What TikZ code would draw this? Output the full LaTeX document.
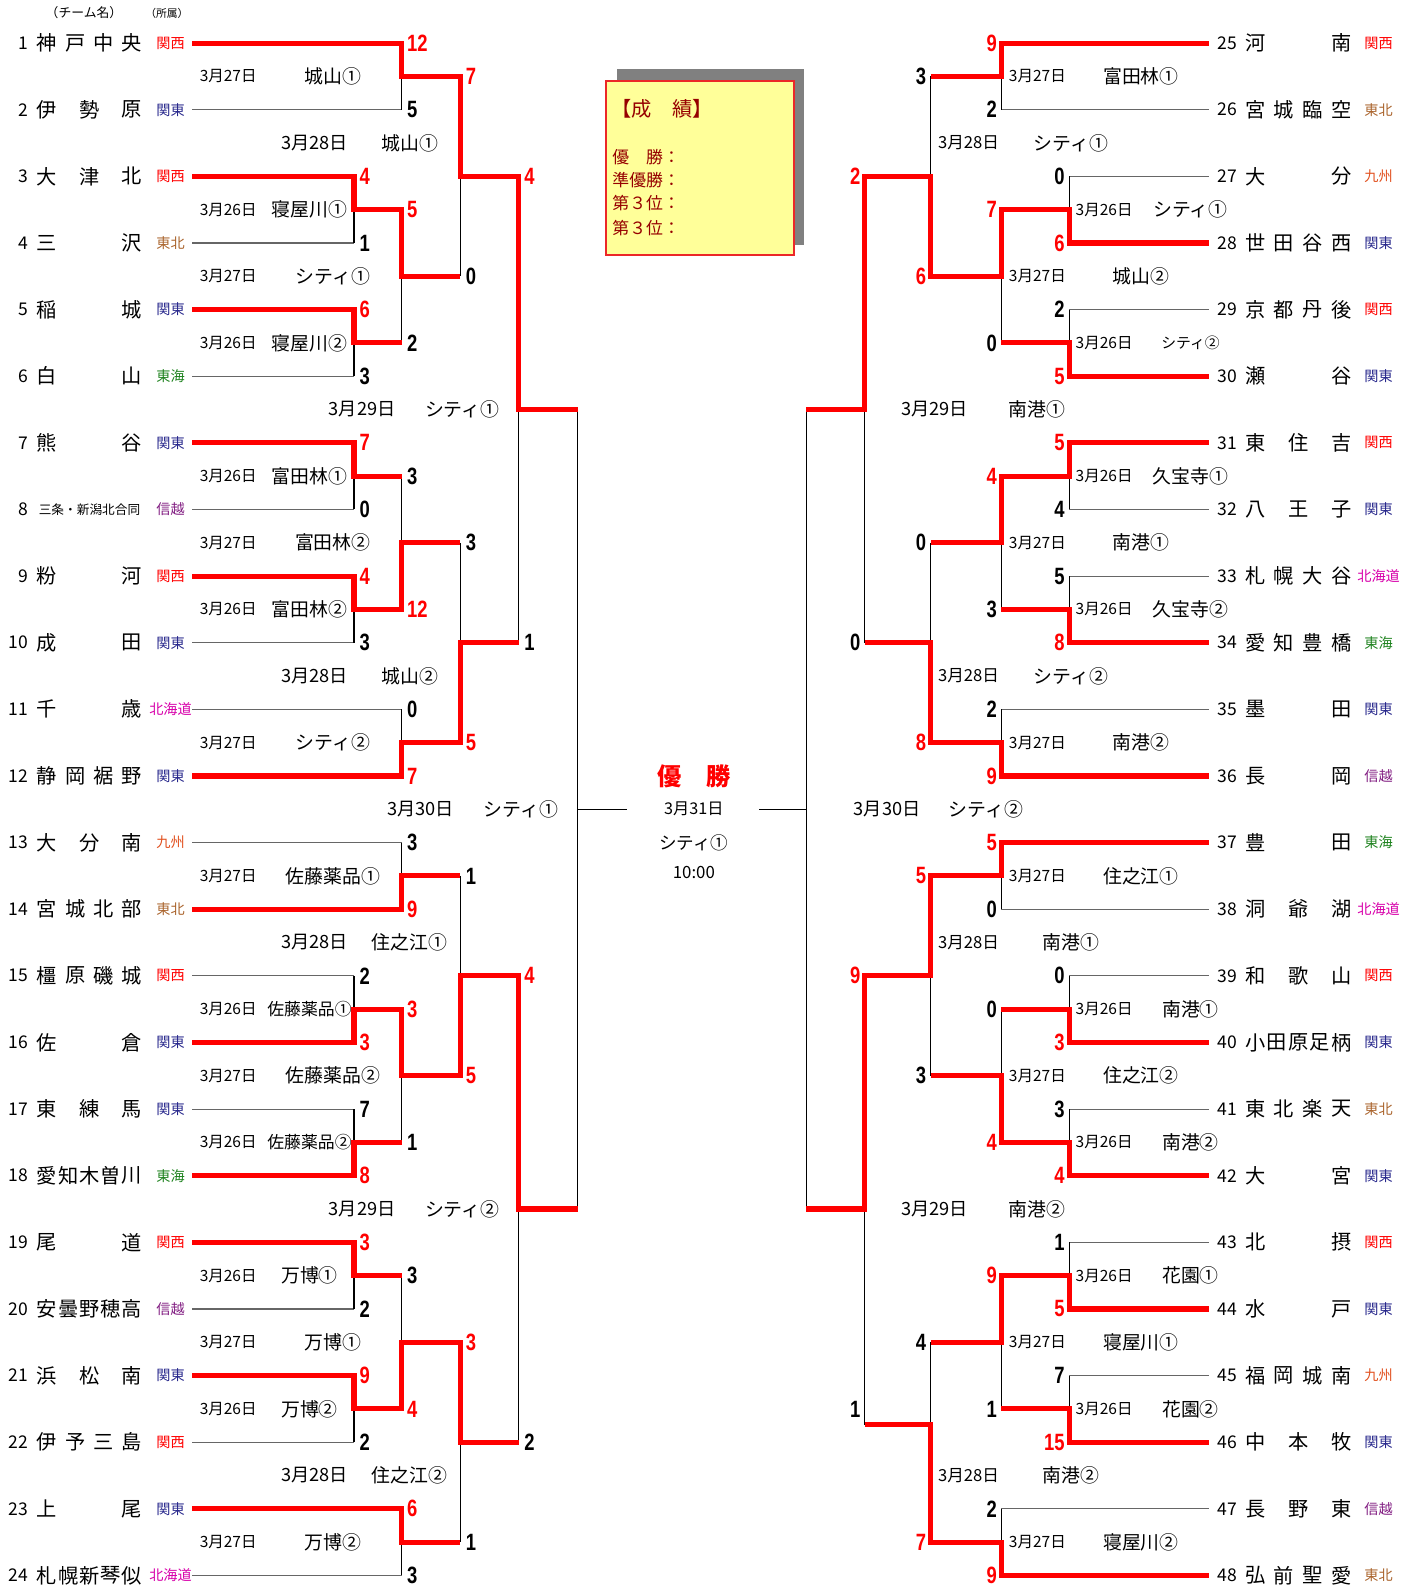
\documentclass[tikz,border=0pt]{standalone}
\usepackage{fontspec}
\usepackage{graphicx}
\setmainfont{Noto Sans CJK JP}
\newfontfamily\scorefont{Liberation Sans}

\definecolor{cWin}{RGB}{255,0,0}
\definecolor{cKansai}{RGB}{255,0,0}
\definecolor{cKanto}{RGB}{40,40,140}
\definecolor{cTohoku}{RGB}{170,100,45}
\definecolor{cTokai}{RGB}{30,130,30}
\definecolor{cHokkaido}{RGB}{215,0,170}
\definecolor{cKyushu}{RGB}{225,80,30}
\definecolor{cShinetsu}{RGB}{130,30,130}
\definecolor{cBox}{RGB}{255,255,153}
\definecolor{cBoxLine}{RGB}{235,40,40}
\definecolor{cBoxText}{RGB}{150,0,0}
\definecolor{cShadow}{RGB}{128,128,128}

\newcommand\Kansai{\textcolor{cKansai}{関西}}
\newcommand\Kanto{\textcolor{cKanto}{関東}}
\newcommand\Tohoku{\textcolor{cTohoku}{東北}}
\newcommand\Tokai{\textcolor{cTokai}{東海}}
\newcommand\Hokkaido{\textcolor{cHokkaido}{北海道}}
\newcommand\Kyushu{\textcolor{cKyushu}{九州}}
\newcommand\Shinetsu{\textcolor{cShinetsu}{信越}}

\tikzset{every picture/.style={line width=0.75pt}}
\tikzset{
  teamline/.style={draw=black!60, line width=0.8pt},
  bline/.style={draw=black, line width=0.8pt},
  winline/.style={draw=cWin, line width=3.8pt},
  teamno/.style={inner sep=0pt, font=\fontsize{13}{13}\selectfont},
  teamchr/.style={inner sep=0pt, font=\fontsize{15}{15}\selectfont},
  regionlbl/.style={inner sep=0pt, font=\fontsize{10.5}{10.5}\selectfont},
  scw/.style={anchor=west, inner sep=0pt, font=\scorefont\bfseries\fontsize{17.5}{17.5}\selectfont},
  sce/.style={anchor=east, inner sep=0pt, font=\scorefont\bfseries\fontsize{17.5}{17.5}\selectfont},
  datelbl/.style={inner sep=0pt, font=\fontsize{11.5}{11.5}\selectfont},
  datebig/.style={inner sep=0pt, font=\fontsize{13.5}{13.5}\selectfont},
  venue/.style={inner sep=0pt, font=\fontsize{14}{14}\selectfont},
}

% team on the left: number, row, name characters, region, end of its line
\newcommand\teamL[5]{%
  \draw[teamline] (190,#2) -- (#5,#2);
  \node[teamno,anchor=east] (n#1) at (28,#2) {#1};
  \foreach \ch [count=\k] in {#3} {\xdef\nchars{\k}}%
  \foreach \ch [count=\k from 0] in {#3} {\node[teamchr] (n#1-\k) at ({46.5+\k*84.1/(\nchars-1)},#2) {\ch};}%
  \node[regionlbl] (a#1) at (168.6,#2) {#4};}
% team on the right
\newcommand\teamR[5]{%
  \draw[teamline] (#5,#2) -- (1195,#2);
  \node[teamno,anchor=west] (n#1) at (1203,#2) {#1};
  \foreach \ch [count=\k] in {#3} {\xdef\nchars{\k}}%
  \foreach \ch [count=\k from 0] in {#3} {\node[teamchr] (n#1-\k) at ({1241+\k*85/(\nchars-1)},#2) {\ch};}%
  \node[regionlbl] (a#1) at (1363,#2) {#4};}

\begin{document}
\begin{tikzpicture}[x=0.75pt,y=49.4025pt,yscale=-1,xscale=1]
\useasboundingbox (0,-0.6467) rectangle (1401,23.1584);

% Text Node
\node[inner sep=0pt, font=\fontsize{9.5}{9.5}\selectfont] (hdteam) at (83,-0.45) {（チーム名）};
% Text Node
\node[inner sep=0pt, font=\fontsize{8}{8}\selectfont] (hdarea) at (165,-0.45) {（所属）};

%Teams left
\teamL{1}{0}{神,戸,中,央}{\Kansai}{397}
\teamL{2}{1}{伊,勢,原}{\Kanto}{397}
\teamL{3}{2}{大,津,北}{\Kansai}{350}
\teamL{4}{3}{三,沢}{\Tohoku}{350}
\teamL{5}{4}{稲,城}{\Kanto}{350}
\teamL{6}{5}{白,山}{\Tokai}{350}
\teamL{7}{6}{熊,谷}{\Kanto}{350}
\draw[teamline] (190,7) -- (350,7);
\node[teamno,anchor=east] (n8) at (28,7) {8};
\node[inner sep=0pt, font=\fontsize{9.4}{9.4}\selectfont] (n8-0) at (88.5,7) {三条・新潟北合同};
\node[regionlbl] (a8) at (168.6,7) {\Shinetsu};
\teamL{9}{8}{粉,河}{\Kansai}{350}
\teamL{10}{9}{成,田}{\Kanto}{350}
\teamL{11}{10}{千,歳}{\Hokkaido}{397}
\teamL{12}{11}{静,岡,裾,野}{\Kanto}{397}
\teamL{13}{12}{大,分,南}{\Kyushu}{397}
\teamL{14}{13}{宮,城,北,部}{\Tohoku}{397}
\teamL{15}{14}{橿,原,磯,城}{\Kansai}{350}
\teamL{16}{15}{佐,倉}{\Kanto}{350}
\teamL{17}{16}{東,練,馬}{\Kanto}{350}
\teamL{18}{17}{愛,知,木,曽,川}{\Tokai}{350}
\teamL{19}{18}{尾,道}{\Kansai}{350}
\teamL{20}{19}{安,曇,野,穂,高}{\Shinetsu}{350}
\teamL{21}{20}{浜,松,南}{\Kanto}{350}
\teamL{22}{21}{伊,予,三,島}{\Kansai}{350}
\teamL{23}{22}{上,尾}{\Kanto}{397}
\teamL{24}{23}{札,幌,新,琴,似}{\Hokkaido}{397}

%Teams right
\teamR{25}{0}{河,南}{\Kansai}{990}
\teamR{26}{1}{宮,城,臨,空}{\Tohoku}{990}
\teamR{27}{2}{大,分}{\Kyushu}{1057}
\teamR{28}{3}{世,田,谷,西}{\Kanto}{1057}
\teamR{29}{4}{京,都,丹,後}{\Kansai}{1057}
\teamR{30}{5}{瀬,谷}{\Kanto}{1057}
\teamR{31}{6}{東,住,吉}{\Kansai}{1057}
\teamR{32}{7}{八,王,子}{\Kanto}{1057}
\teamR{33}{8}{札,幌,大,谷}{\Hokkaido}{1057}
\teamR{34}{9}{愛,知,豊,橋}{\Tokai}{1057}
\teamR{35}{10}{墨,田}{\Kanto}{990}
\teamR{36}{11}{長,岡}{\Shinetsu}{990}
\teamR{37}{12}{豊,田}{\Tokai}{990}
\teamR{38}{13}{洞,爺,湖}{\Hokkaido}{990}
\teamR{39}{14}{和,歌,山}{\Kansai}{1057}
\teamR{40}{15}{小,田,原,足,柄}{\Kanto}{1057}
\teamR{41}{16}{東,北,楽,天}{\Tohoku}{1057}
\teamR{42}{17}{大,宮}{\Kanto}{1057}
\teamR{43}{18}{北,摂}{\Kansai}{1057}
\teamR{44}{19}{水,戸}{\Kanto}{1057}
\teamR{45}{20}{福,岡,城,南}{\Kyushu}{1057}
\teamR{46}{21}{中,本,牧}{\Kanto}{1057}
\teamR{47}{22}{長,野,東}{\Shinetsu}{990}
\teamR{48}{23}{弘,前,聖,愛}{\Tohoku}{990}

%Bracket left
\foreach \ya/\yb in {2/3,4/5,6/7,8/9,14/15,16/17,18/19,20/21}
  \draw[bline] (350,\ya) -- (350,\yb) (350,{(\ya+\yb)/2}) -- (397,{(\ya+\yb)/2});
\foreach \ya/\yb in {0/1,2.5/4.5,6.5/8.5,10/11,12/13,14.5/16.5,18.5/20.5,22/23}
  \draw[bline] (397,\ya) -- (397,\yb) (397,{(\ya+\yb)/2}) -- (455,{(\ya+\yb)/2});
\foreach \ya/\yb in {0.5/3.5,7.5/10.5,12.5/15.5,19.5/22.5}
  \draw[bline] (455,\ya) -- (455,\yb) (455,{(\ya+\yb)/2}) -- (513,{(\ya+\yb)/2});
\foreach \ya/\yb in {2/9,14/21}
  \draw[bline] (513,\ya) -- (513,\yb) (513,{(\ya+\yb)/2}) -- (571,{(\ya+\yb)/2});
\draw[bline] (571,5.5) -- (571,17.5) (571,11.5) -- (620,11.5);

%Bracket right
\foreach \ya/\yb in {2/3,4/5,6/7,8/9,14/15,16/17,18/19,20/21}
  \draw[bline] (1057,\ya) -- (1057,\yb) (1057,{(\ya+\yb)/2}) -- (990,{(\ya+\yb)/2});
\foreach \ya/\yb in {0/1,2.5/4.5,6.5/8.5,10/11,12/13,14.5/16.5,18.5/20.5,22/23}
  \draw[bline] (990,\ya) -- (990,\yb) (990,{(\ya+\yb)/2}) -- (920,{(\ya+\yb)/2});
\foreach \ya/\yb in {0.5/3.5,7.5/10.5,12.5/15.5}
  \draw[bline] (920,\ya) -- (920,\yb) (920,{(\ya+\yb)/2}) -- (855,{(\ya+\yb)/2});
\draw[bline] (920,19.5) -- (920,22.5) (920,20.74) -- (855,20.74);
\draw[bline] (855,2) -- (855,9) (855,5.5) -- (797,5.5);
\draw[bline] (855,14) -- (855,20.74) (855,17.5) -- (797,17.5);
\draw[bline] (797,5.5) -- (797,17.5) (797,11.5) -- (750,11.5);

%Winners left
\draw[winline] (190,0) -- (397,0) -- (397,0.5) -- (455,0.5) -- (455,2) -- (513,2) -- (513,5.5) -- (571,5.5);
\draw[winline] (190,2) -- (350,2) -- (350,2.5) -- (397,2.5) -- (397,3.5) -- (455,3.5);
\draw[winline] (190,4) -- (350,4) -- (350,4.5) -- (397,4.5);
\draw[winline] (190,6) -- (350,6) -- (350,6.5) -- (397,6.5);
\draw[winline] (190,8) -- (350,8) -- (350,8.5) -- (397,8.5) -- (397,7.5) -- (455,7.5);
\draw[winline] (190,11) -- (397,11) -- (397,10.5) -- (455,10.5) -- (455,9) -- (513,9);
\draw[winline] (190,13) -- (397,13) -- (397,12.5) -- (455,12.5);
\draw[winline] (190,15) -- (350,15) -- (350,14.5) -- (397,14.5) -- (397,15.5) -- (455,15.5) -- (455,14) -- (513,14) -- (513,17.5) -- (571,17.5);
\draw[winline] (190,17) -- (350,17) -- (350,16.5) -- (397,16.5);
\draw[winline] (190,18) -- (350,18) -- (350,18.5) -- (397,18.5);
\draw[winline] (190,20) -- (350,20) -- (350,20.5) -- (397,20.5) -- (397,19.5) -- (455,19.5) -- (455,21) -- (513,21);
\draw[winline] (190,22) -- (397,22) -- (397,22.5) -- (455,22.5);

%Winners right
\draw[winline] (1195,0) -- (990,0) -- (990,0.5) -- (920,0.5);
\draw[winline] (1195,3) -- (1057,3) -- (1057,2.5) -- (990,2.5) -- (990,3.5) -- (920,3.5) -- (920,2) -- (855,2) -- (855,5.5) -- (797,5.5);
\draw[winline] (1195,5) -- (1057,5) -- (1057,4.5) -- (990,4.5);
\draw[winline] (1195,6) -- (1057,6) -- (1057,6.5) -- (990,6.5) -- (990,7.5) -- (920,7.5);
\draw[winline] (1195,9) -- (1057,9) -- (1057,8.5) -- (990,8.5);
\draw[winline] (1195,11) -- (990,11) -- (990,10.5) -- (920,10.5) -- (920,9) -- (855,9);
\draw[winline] (1195,12) -- (990,12) -- (990,12.5) -- (920,12.5) -- (920,14) -- (855,14) -- (855,17.5) -- (797,17.5);
\draw[winline] (1195,15) -- (1057,15) -- (1057,14.5) -- (990,14.5);
\draw[winline] (1195,17) -- (1057,17) -- (1057,16.5) -- (990,16.5) -- (990,15.5) -- (920,15.5);
\draw[winline] (1195,19) -- (1057,19) -- (1057,18.5) -- (990,18.5) -- (990,19.5) -- (920,19.5);
\draw[winline] (1195,21) -- (1057,21) -- (1057,20.5) -- (990,20.5);
\draw[winline] (1195,23) -- (990,23) -- (990,22.5) -- (920,22.5) -- (920,20.74) -- (855,20.74);

%Scores left
\foreach \ro/\sv/\cl [count=\i] in {2/4/cWin,3/1/black,4/6/cWin,5/3/black,6/7/cWin,7/0/black,8/4/cWin,9/3/black,14/2/black,15/3/cWin,16/7/black,17/8/cWin,18/3/cWin,19/2/black,20/9/cWin,21/2/black}
  \node[scw,text=\cl] (sa\i) at (355,\ro) {\scalebox{0.78}[1]{\sv}};
\foreach \ro/\sv/\cl [count=\i] in {0/12/cWin,1/5/black,2.5/5/cWin,4.5/2/black,6.5/3/black,8.5/12/cWin,10/0/black,11/7/cWin,12/3/black,13/9/cWin,14.5/3/cWin,16.5/1/black,18.5/3/black,20.5/4/cWin,22/6/cWin,23/3/black}
  \node[scw,text=\cl] (sb\i) at (402,\ro) {\scalebox{0.78}[1]{\sv}};
\foreach \ro/\sv/\cl [count=\i] in {0.5/7/cWin,3.5/0/black,7.5/3/black,10.5/5/cWin,12.5/1/black,15.5/5/cWin,19.5/3/cWin,22.5/1/black}
  \node[scw,text=\cl] (sc\i) at (460,\ro) {\scalebox{0.78}[1]{\sv}};
\foreach \ro/\sv/\cl [count=\i] in {2/4/cWin,9/1/black,14/4/cWin,21/2/black}
  \node[scw,text=\cl] (sd\i) at (518,\ro) {\scalebox{0.78}[1]{\sv}};

%Scores right
\foreach \ro/\sv/\cl [count=\i] in {2/0/black,3/6/cWin,4/2/black,5/5/cWin,6/5/cWin,7/4/black,8/5/black,9/8/cWin,14/0/black,15/3/cWin,16/3/black,17/4/cWin,18/1/black,19/5/cWin,20/7/black,21/15/cWin}
  \node[sce,text=\cl] (se\i) at (1053,\ro) {\scalebox{0.78}[1]{\sv}};
\foreach \ro/\sv/\cl [count=\i] in {0/9/cWin,1/2/black,2.5/7/cWin,4.5/0/black,6.5/4/cWin,8.5/3/black,10/2/black,11/9/cWin,12/5/cWin,13/0/black,14.5/0/black,16.5/4/cWin,18.5/9/cWin,20.5/1/black,22/2/black,23/9/cWin}
  \node[sce,text=\cl] (sf\i) at (986,\ro) {\scalebox{0.78}[1]{\sv}};
\foreach \ro/\sv/\cl [count=\i] in {0.5/3/black,3.5/6/cWin,7.5/0/black,10.5/8/cWin,12.5/5/cWin,15.5/3/black,19.5/4/black,22.5/7/cWin}
  \node[sce,text=\cl] (sg\i) at (916,\ro) {\scalebox{0.78}[1]{\sv}};
\foreach \ro/\sv/\cl [count=\i] in {2/2/cWin,9/0/black,14/9/cWin,20.5/1/black}
  \node[sce,text=\cl] (sh\i) at (851,\ro) {\scalebox{0.78}[1]{\sv}};

%Matches left
\foreach \ro/\vn [count=\i] in {2.5/寝屋川①,4.5/寝屋川②,6.5/富田林①,8.5/富田林②,14.5/{\fontsize{12.5}{12.5}\selectfont 佐藤薬品①},16.5/{\fontsize{12.5}{12.5}\selectfont 佐藤薬品②},18.5/万博①,20.5/万博②}
  {\node[datelbl,anchor=west] (da\i) at (197,\ro) {3月26日}; \node[venue] (va\i) at (306,\ro) {\vn};}
\foreach \ro/\vn [count=\i] in {0.5/城山①,3.5/シティ①,7.5/富田林②,10.5/シティ②,12.5/佐藤薬品①,15.5/佐藤薬品②,19.5/万博①,22.5/万博②}
  {\node[datelbl,anchor=west] (db\i) at (197,\ro) {3月27日}; \node[venue] (vb\i) at (329,\ro) {\vn};}
\foreach \ro/\vn [count=\i] in {1.5/城山①,9.5/城山②,13.5/住之江①,21.5/住之江②}
  {\node[datebig] (dc\i) at (311,\ro) {3月28日}; \node[venue] (vc\i) at (405,\ro) {\vn};}
\foreach \ro/\vn [count=\i] in {5.5/シティ①,17.5/シティ②}
  {\node[datebig] (dd\i) at (358,\ro) {3月29日}; \node[venue] (vd\i) at (457,\ro) {\vn};}
\node[datebig] (de1) at (416,11.5) {3月30日};
\node[venue] (ve1) at (515,11.5) {シティ①};

%Matches right
\foreach \ro/\vn [count=\i] in {2.5/シティ①,4.5/{\fontsize{11}{11}\selectfont シティ②},6.5/久宝寺①,8.5/久宝寺②,14.5/南港①,16.5/南港②,18.5/花園①,20.5/花園②}
  {\node[datelbl,anchor=west] (df\i) at (1063,\ro) {3月26日}; \node[venue] (vf\i) at (1177,\ro) {\vn};}
\foreach \ro/\vn [count=\i] in {0.5/富田林①,3.5/城山②,7.5/南港①,10.5/南港②,12.5/住之江①,15.5/住之江②,19.5/寝屋川①,22.5/寝屋川②}
  {\node[datelbl,anchor=west] (dg\i) at (997,\ro) {3月27日}; \node[venue] (vg\i) at (1128,\ro) {\vn};}
\foreach \ro/\vn [count=\i] in {1.5/シティ①,9.5/シティ②,13.5/南港①,21.5/南港②}
  {\node[datelbl,anchor=west,font=\fontsize{12.3}{12.3}\selectfont] (dh\i) at (927,\ro) {3月28日}; \node[venue] (vh\i) at (1059,\ro) {\vn};}
\foreach \ro/\vn [count=\i] in {5.5/南港①,17.5/南港②}
  {\node[datebig] (di\i) at (924,\ro) {3月29日}; \node[venue] (vi\i) at (1025,\ro) {\vn};}
\node[datebig] (dj1) at (877,11.5) {3月30日};
\node[venue] (vj1) at (975,11.5) {シティ②};

% Final
\node[inner sep=0pt, text=cWin, font=\fontsize{18}{18}\selectfont\bfseries] (fin) at (686,11) {優　勝};
\node[inner sep=0pt, font=\fontsize{12}{12}\selectfont] (findate) at (686,11.5) {3月31日};
\node[inner sep=0pt, font=\fontsize{13}{13}\selectfont] (finvenue) at (686,12) {シティ①};
\node[inner sep=0pt, font=\fontsize{12.5}{12.5}\selectfont] (fintime) at (686,12.45) {10:00};

%Shape: Rectangle (shadow)
\fill[cShadow] (610,0.386) rectangle (795,3.027);
%Shape: Rectangle (results)
\draw[draw=cBoxLine, fill=cBox, line width=1.1pt] (599,0.568) rectangle (785,3.179);
% Text Node
\node[inner sep=0pt, anchor=west, text=cBoxText, font=\fontsize{15}{15}\selectfont] (restitle) at (604,0.993) {【成　績】};
\node[inner sep=0pt, anchor=west, text=cBoxText, font=\fontsize{12.5}{12.5}\selectfont] (res1) at (605,1.706) {優　勝：};
\node[inner sep=0pt, anchor=west, text=cBoxText, font=\fontsize{12.5}{12.5}\selectfont] (res2) at (605,2.056) {準優勝：};
\node[inner sep=0pt, anchor=west, text=cBoxText, font=\fontsize{12.5}{12.5}\selectfont] (res3) at (605,2.405) {第３位：};
\node[inner sep=0pt, anchor=west, text=cBoxText, font=\fontsize{12.5}{12.5}\selectfont] (res4) at (605,2.769) {第３位：};

\end{tikzpicture}
\end{document}
